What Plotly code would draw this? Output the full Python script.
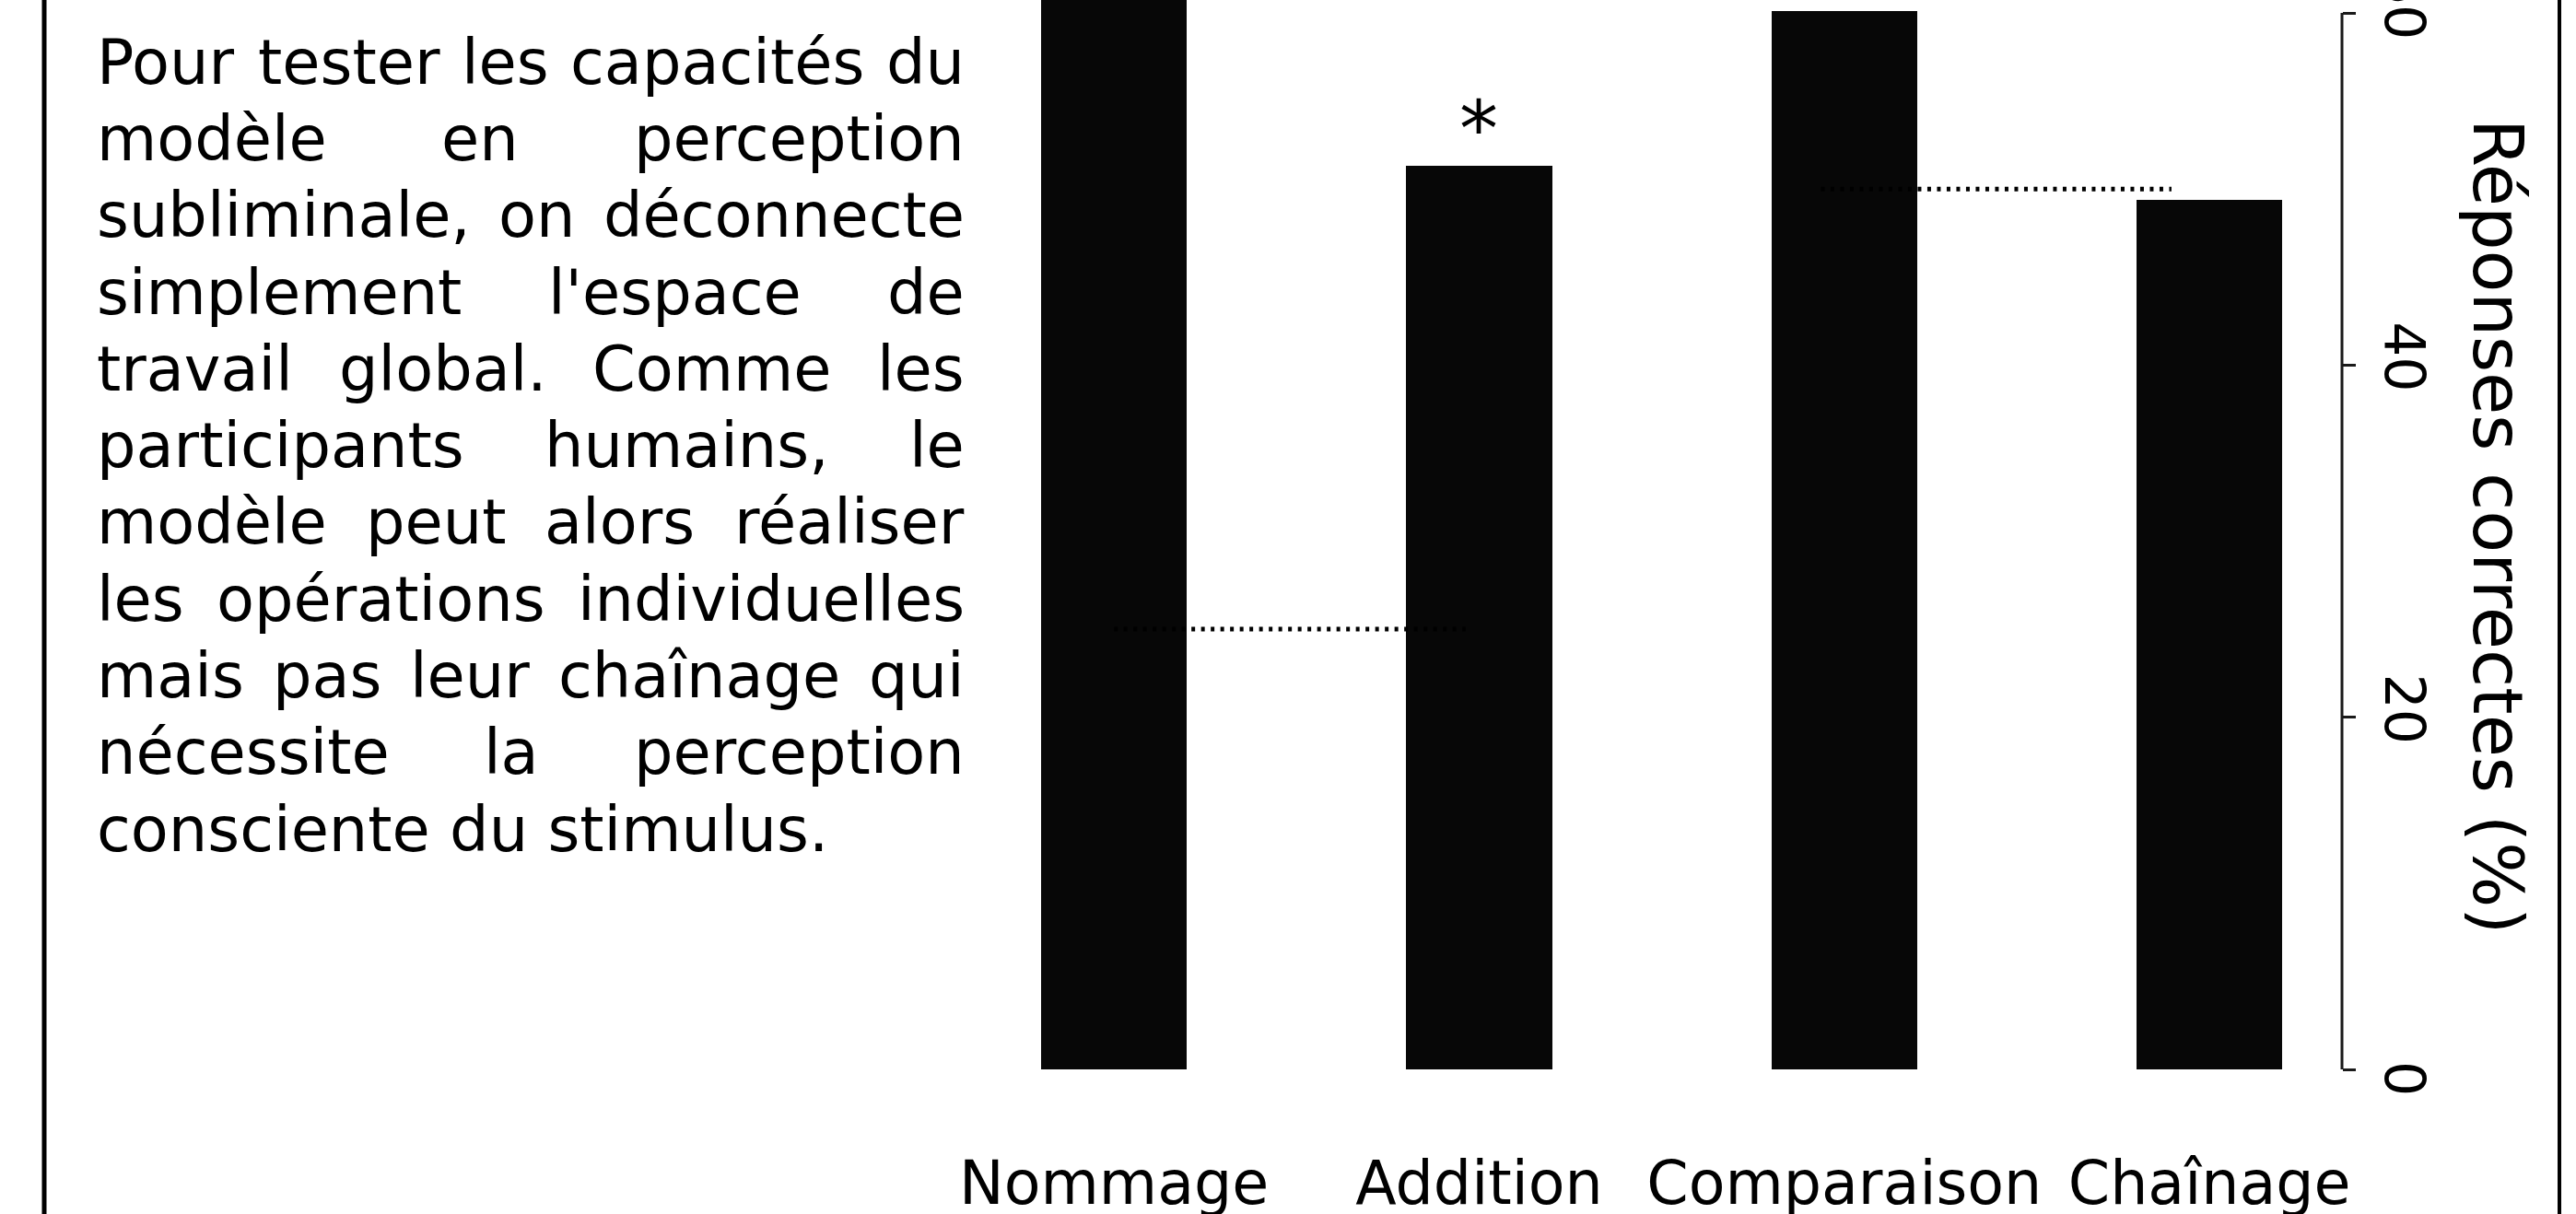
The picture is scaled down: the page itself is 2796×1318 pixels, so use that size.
import plotly.graph_objects as go

# ---------------- data ----------------
categories = ["Nommage", "Addition", "Comparaison", "Chaînage"]
correct_pct = [70.0, 51.3, 60.1, 49.4]          # Nommage bar runs off the top of the view
chance1_x = [0.0, 0.963]
chance1_y = [25, 25]
chance2_x = [1.936, 2.896]
chance2_y = [50, 50]
y_tickvals = [0, 20, 40, 60]
y_ticktext = ["0", "20", "40", "60"]
y_title = "Réponses correctes (%)"
star_text = "*"
paragraph_lines = [
    "Pour tester les capacités du",
    "modèle en perception",
    "subliminale, on déconnecte",
    "simplement l'espace de",
    "travail global. Comme les",
    "participants humains, le",
    "modèle peut alors réaliser",
    "les opérations individuelles",
    "mais pas leur chaînage qui",
    "nécessite la perception",
    "consciente du stimulus.",
]

# ---------------- geometry (pixels) ----------------
FW, FH = 2796, 1318
L, R, T, B = 1011, 2542, 0, 1161          # plot area
FONT = "DejaVu Sans"


def px(x):
    return (x - L) / (R - L)


def py(y):
    return (B - y) / (B - T)


# DejaVu Sans advance widths (units per em = 2048)
ADV = {
    " ": 651, "'": 563, ",": 651, ".": 651, "(": 799, ")": 799, "%": 1946, "*": 1024,
    "A": 1401, "C": 1430, "N": 1532, "P": 1235, "R": 1423,
    "a": 1255, "b": 1300, "c": 1126, "d": 1300, "e": 1260, "f": 721, "g": 1300,
    "h": 1298, "i": 569, "j": 569, "k": 1186, "l": 569, "m": 1995, "n": 1298,
    "o": 1253, "p": 1300, "q": 1300, "r": 842, "s": 1067, "t": 803, "u": 1298,
    "v": 1212, "w": 1675, "x": 1212, "y": 1212, "z": 1075,
    "é": 1260, "è": 1260, "î": 569, "â": 1255,
}


def text_w(s, size):
    return sum(ADV.get(ch, 1250) for ch in s) / 2048.0 * size


fig = go.Figure()

fig.add_trace(go.Bar(
    x=list(range(len(categories))), y=correct_pct, width=0.4,
    marker=dict(color="#070707", line=dict(width=0)),
    showlegend=False, hoverinfo="skip",
))
for cx, cy in ((chance1_x, chance1_y), (chance2_x, chance2_y)):
    fig.add_trace(go.Scatter(
        x=cx, y=cy, mode="lines",
        line=dict(color="#000000", width=5, dash="4px,6.5px"),
        showlegend=False, hoverinfo="skip",
    ))

annotations = []

# asterisk above Addition
annotations.append(dict(
    x=1, y=correct_pct[1], xref="x", yref="y", text=star_text, showarrow=False,
    xanchor="center", yanchor="middle", yshift=40,
    font=dict(family=FONT, size=84, color="black"), borderpad=0, borderwidth=0,
))

# axis title (reads top to bottom)
annotations.append(dict(
    x=px(2711), y=py(572), xref="paper", yref="paper", text=y_title,
    showarrow=False, textangle=90, xanchor="center", yanchor="middle",
    font=dict(family=FONT, size=75, color="black"), borderpad=0, borderwidth=0,
))

# justified paragraph
PS = 67
X0, X1 = 105, 1047
for i, line in enumerate(paragraph_lines):
    base = 90.7 + 83.33 * i
    yc = py(base - 0.346 * PS)
    words = line.split(" ")
    if i == len(paragraph_lines) - 1 or len(words) == 1:
        annotations.append(dict(
            x=px(X0), y=yc, xref="paper", yref="paper", text=line, showarrow=False,
            xanchor="left", yanchor="middle", font=dict(family=FONT, size=PS, color="black"),
            borderpad=0, borderwidth=0,
        ))
        continue
    widths = [text_w(w, PS) for w in words]
    gap = (X1 - X0 - sum(widths)) / (len(words) - 1)
    x = X0
    for j, (w, ww) in enumerate(zip(words, widths)):
        if j == len(words) - 1:
            annotations.append(dict(
                x=px(X1), y=yc, xref="paper", yref="paper", text=w, showarrow=False,
                xanchor="right", yanchor="middle", font=dict(family=FONT, size=PS, color="black"),
                borderpad=0, borderwidth=0,
            ))
        else:
            annotations.append(dict(
                x=px(x), y=yc, xref="paper", yref="paper", text=w, showarrow=False,
                xanchor="left", yanchor="middle", font=dict(family=FONT, size=PS, color="black"),
                borderpad=0, borderwidth=0,
            ))
        x += ww + gap

shapes = [
    # y-axis spine limited to 0..60
    dict(type="line", xref="paper", yref="y", x0=1, x1=1, y0=0, y1=60,
         line=dict(color="#1a1a1a", width=3)),
    # frame lines
    dict(type="line", xref="paper", yref="paper", x0=px(48), x1=px(48), y0=py(FH + 5), y1=py(-5),
         line=dict(color="black", width=5)),
    dict(type="line", xref="paper", yref="paper", x0=px(2778), x1=px(2778), y0=py(FH + 5), y1=py(-5),
         line=dict(color="black", width=4)),
]

# rotated labels end just below their tick (as in the reference):
# single-digit labels get a small lead-in so they sit below the tick
NB = "\u00a0\u00a0"
y_ticklabels = [(NB + t) if len(t) == 1 else t for t in y_ticktext]

fig.update_layout(
    width=FW, height=FH,
    margin=dict(l=L, r=FW - R, t=T, b=FH - B, pad=0, autoexpand=False),
    paper_bgcolor="white", plot_bgcolor="white",
    bargap=0,
    annotations=annotations, shapes=shapes,
    font=dict(family=FONT, color="black"),
    xaxis=dict(
        range=[-0.5, 3.363], tickvals=list(range(len(categories))), ticktext=categories,
        showgrid=False, zeroline=False, showline=False, ticks="",
        tickfont=dict(family=FONT, size=65, color="black"), ticklabelstandoff=80,
        fixedrange=True,
    ),
    yaxis=dict(
        side="right", range=[0, B / ((B - 14) / 60.0)], tickvals=y_tickvals,
        ticktext=y_ticklabels,
        showgrid=False, zeroline=False, showline=False,
        ticks="outside", ticklen=14, tickwidth=3, tickcolor="#1a1a1a",
        tickangle=90, tickfont=dict(family=FONT, size=60, color="black"),
        ticklabelstandoff=8, ticklabeloverflow="allow", fixedrange=True,
    ),
)

fig.write_html(
    "out.html",
    config={"displayModeBar": False},
    post_script="document.body.style.margin='0';document.body.style.overflow='hidden';",
)
